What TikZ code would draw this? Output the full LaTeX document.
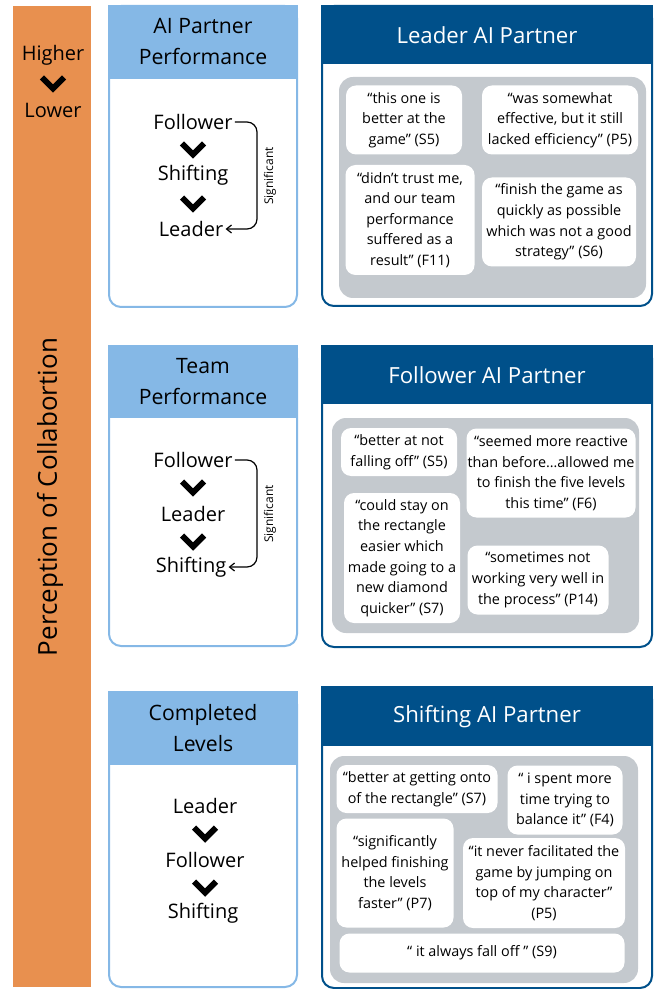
\documentclass[tikz,border=0pt]{standalone}
\usepackage{fontspec}
\setmainfont{Open Sans}
\usetikzlibrary{arrows.meta}

\definecolor{barorange}{HTML}{E8904F}
\definecolor{lightblue}{HTML}{85B8E6}
\definecolor{darkblue}{HTML}{00508A}
\definecolor{quotegrey}{HTML}{C4C9CE}

\begin{document}
\begin{tikzpicture}[x=0.5pt,y=-0.5pt,
  chev/.style={line width=3pt, line join=miter, line cap=butt},
  ltitle/.style={align=center, font=\fontsize{10.6}{15.5}\selectfont},
  rtitle/.style={text=white, font=\fontsize{11.1}{13}\selectfont},
  rank/.style={inner sep=1pt, font=\fontsize{10}{12}\selectfont},
  quote/.style={fill=white, rounded corners=5pt, align=center, inner sep=0pt,
    font=\fontsize{7.2}{10.3}\selectfont},
  sigarrow/.style={-{Straight Barb[length=2.5pt,width=4pt]}, line width=0.6pt, rounded corners=5pt}]
\useasboundingbox (0,0) rectangle (654,989);

% Orange scale bar
\fill[barorange] (13,6) rectangle (91,987);
\node[font=\fontsize{10}{12}\selectfont] (high) at (53,55) {Higher};
\node[font=\fontsize{10}{12}\selectfont] (low) at (53,110) {Lower};
\draw[chev] (53,83) ++(-11,-5.5) -- ++(11,11) -- ++(11,-11);
\node[rotate=90, font=\fontsize{13}{15}\selectfont] (perc) at (50,497) {Perception of Collabortion};

% Measure panels (light blue)
\foreach \p/\top/\hb/\bot/\ty/\ttl in {1/6/79/307/42/{AI Partner\\Performance},
    2/346/418/646/382/{Team\\Performance}, 3/692/765/987/728/{Completed\\Levels}}
{
  \draw[lightblue, line width=1pt, rounded corners=6pt] (109,\top) rectangle (297,\bot);
  \fill[lightblue] (108,\top-1) rectangle (298,\hb);
  \node[ltitle] (lt\p) at (203,\ty) {\ttl};
}

% Rankings in each measure panel
\foreach \p/\x/\y/\a/\b/\c in {1/193/122/Follower/Shifting/Leader,
    2/193/460/Follower/Leader/Shifting, 3/205/806/Leader/Follower/Shifting}
{
  \node[rank] (r\p-a) at (\x,\y) {\a};
  \node[rank] (r\p-b) at (\x,\y+53.5) {\b};
  \node[rank] (r\p-c) at (\x-2,\y+107) {\c};
  \draw[chev] (\x,\y+27) ++(-11,-5.5) -- ++(11,11) -- ++(11,-11);
  \draw[chev] (\x,\y+81) ++(-11,-5.5) -- ++(11,11) -- ++(11,-11);
}

% Significance brackets
\foreach \p/\y in {1/176, 2/514}
{
  \draw[sigarrow] (r\p-a.east) -| (257,\y) |- (r\p-c.east);
  \node[rotate=90, font=\fontsize{6}{7}\selectfont] (sig\p) at (270,\y) {Significant};
}

% Partner panels (dark blue)
\foreach \p/\top/\hb/\bot/\ttl in {1/6/64/306/Leader AI Partner,
    2/346/404/647/Follower AI Partner, 3/687/746/988/Shifting AI Partner}
{
  \draw[darkblue, line width=1pt, rounded corners=6pt] (322,\top) rectangle (652,\bot);
  \fill[darkblue] (321,\top-1) rectangle (653,\hb);
  \node[rtitle] (pt\p) at (487,{(\top+\hb)/2}) {\ttl};
}

% Grey quote areas
\fill[quotegrey, rounded corners=7pt] (339,77) rectangle (646,298);
\fill[quotegrey, rounded corners=7pt] (332,418) rectangle (639,633);
\fill[quotegrey, rounded corners=7pt] (330,756) rectangle (638,983);

% Quotes
\foreach \n/\cx/\cy/\w/\h/\txt in {
    lq1/404/120/58/34.5/{“this one is\\better at the\\game” (S5)},
    lq2/560/120/78/34.5/{“was somewhat\\effective, but it still\\lacked efficiency” (P5)},
    lq3/410/220/64.5/55/{“didn't trust me,\\and our team\\performance\\suffered as a\\result” (F11)},
    lq4/559/222/77/44.5/{“finish the game as\\quickly as possible\\which was not a good\\strategy” (S6)},
    fq1/399/452/58/24/{“better at not\\falling off” (S5)},
    fq2/551/473/84.5/44.5/{“seemed more reactive\\than before…allowed me\\to finish the five levels\\this time” (F6)},
    fq3/402/558/58/65/{“could stay on\\the rectangle\\easier which\\made going to a\\new diamond\\quicker” (S7)},
    fq4/538/580/70.5/34.5/{“sometimes not\\working very well in\\the process” (P14)},
    sq1/417/789/80.5/24/{“better at getting onto\\of the rectangle” (S7)},
    sq2/565/800/57.5/34.5/{“ i spent more\\time trying to\\balance it” (F4)},
    sq3/395/873/58.5/54.5/{“significantly\\helped finishing\\the levels\\faster” (P7)},
    sq4/544/883/81/45/{“it never facilitated the\\game by jumping on\\top of my character”\\(P5)},
    sq5/482/953/142.5/19.5/{“ it always fall off ” (S9)}}
{
  \node[quote, minimum width=\w pt, minimum height=\h pt] (\n) at (\cx,\cy) {\txt};
}
\end{tikzpicture}
\end{document}
